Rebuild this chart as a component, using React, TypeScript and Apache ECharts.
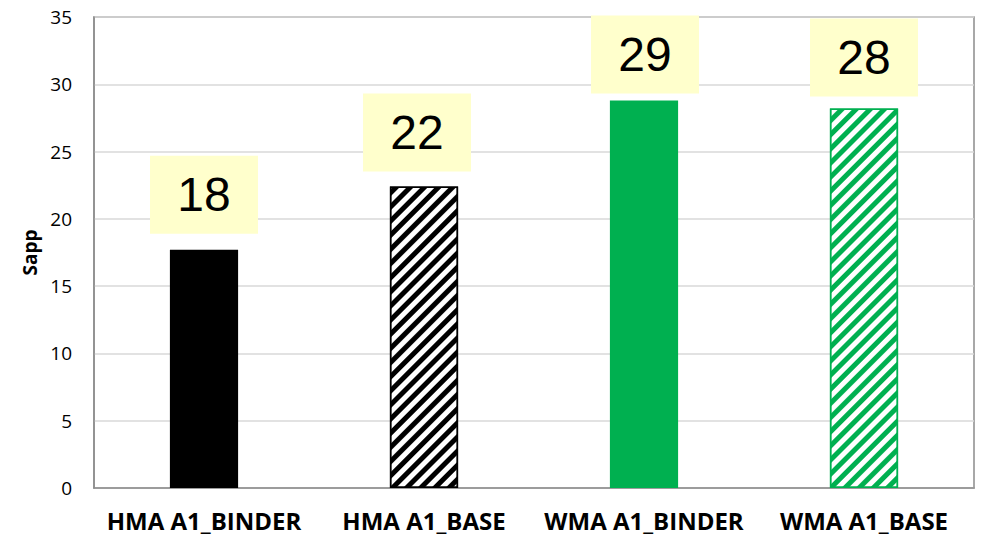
import React, { useEffect, useRef } from "react";
import * as echarts from "echarts";

const categories = ["HMA A1_BINDER", "HMA A1_BASE", "WMA A1_BINDER", "WMA A1_BASE"];
const values = [17.7, 22.4, 28.8, 28.2];
const labels = ["18", "22", "29", "28"];
const colors = ["#000000", "#000000", "#00B050", "#00B050"];
const hatched = [false, true, false, true];
const labelGaps = [16, 15, 7, 12];
const labelShiftX = [0, -7, 1, 0];

export default function App() {
  const ref = useRef<HTMLDivElement>(null);
  useEffect(() => {
    if (!ref.current) return;
    const chart = echarts.init(ref.current, null, { renderer: "svg" });
    const data = values.map((v, i) => ({
      value: v,
      itemStyle: hatched[i]
        ? {
            color: "#ffffff",
            borderColor: colors[i],
            borderWidth: 1.5,
            decal: {
              symbol: "rect",
              symbolSize: 1,
              dashArrayX: [1, 0],
              dashArrayY: [5, 5],
              rotation: -Math.PI / 4,
              color: colors[i],
            },
          }
        : { color: colors[i] },
      label: { formatter: labels[i], distance: labelGaps[i], offset: [labelShiftX[i], 0] },
    }));
    chart.setOption({
      animation: false,
      grid: {
        left: 94,
        right: 8,
        top: 17,
        bottom: 48,
        show: true,
        borderColor: "#8c8c8c",
        borderWidth: 1.5,
      },
      xAxis: {
        type: "category",
        data: categories,
        axisLine: { show: true, lineStyle: { color: "#8c8c8c", width: 1.5 } },
        axisTick: { show: false },
        axisLabel: {
          interval: 0,
          hideOverlap: false,
          margin: 20,
          fontFamily: "Open Sans",
          fontWeight: "bold",
          fontSize: 24,
          color: "#000",
        },
      },
      yAxis: {
        type: "value",
        min: 0,
        max: 35,
        interval: 5,
        name: "Sapp",
        nameLocation: "middle",
        nameGap: 49,
        nameTextStyle: {
          fontFamily: "Open Sans",
          fontWeight: "bold",
          fontSize: 19,
          color: "#000",
        },
        axisLine: { show: true, lineStyle: { color: "#8c8c8c", width: 1.5 } },
        axisTick: { show: false },
        axisLabel: {
          margin: 22,
          fontFamily: "Open Sans",
          fontSize: 19,
          color: "#000",
        },
        splitLine: { lineStyle: { color: "#d9d9d9", width: 1.5 } },
      },
      series: [
        {
          type: "bar",
          data,
          barWidth: "31%",
          label: {
            show: true,
            position: "top",
            fontFamily: "Liberation Sans",
            fontSize: 48,
            lineHeight: 50,
            color: "#000",
            backgroundColor: "#FFFFCC",
            width: 108,
            align: "center",
            padding: [14, 0],
          },
        },
      ],
    });
    return () => chart.dispose();
  }, []);
  return <div ref={ref} style={{ width: 982, height: 536, position: "absolute", left: 0, top: 0 }} />;
}
